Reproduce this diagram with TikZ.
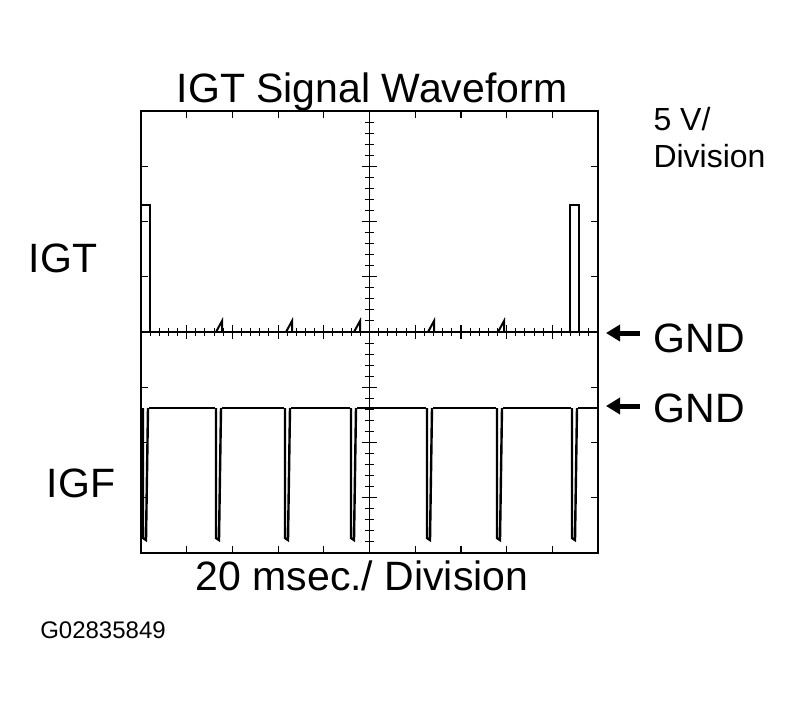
\documentclass[tikz,border=0pt]{standalone}
\usepackage{fontspec}
\setmainfont{Liberation Sans}
\usetikzlibrary{arrows.meta}

\begin{document}
\begin{tikzpicture}[x=1pt,y=-1pt]
    \tikzstyle{trace} = [draw, line width=2.6pt]
    \tikzstyle{lbl} = [font=\fontsize{41}{46}\selectfont]
    \useasboundingbox (0,0) rectangle (804,710);

    % Screen frame
    \draw[line width=1.8pt] (141,111) rectangle (598,553);
    % Ticks on the frame
    \foreach \i in {1,...,9} {
        \draw[line width=1.2pt] ({141+45.7*\i},111) -- ++(0,7);
        \draw[line width=1.2pt] ({141+45.7*\i},553) -- ++(0,-7);
    }
    \foreach \j in {1,...,7} {
        \draw[line width=1.2pt] (141,{111+55.25*\j}) -- ++(7,0);
        \draw[line width=1.2pt] (598,{111+55.25*\j}) -- ++(-7,0);
    }
    % Centre axes
    \draw[line width=1.2pt] (369.5,111) -- (369.5,553);
    \draw[line width=1.2pt] (141,332) -- (598,332);
    \foreach \k in {1,...,49} \draw[line width=1pt] ({141+9.14*\k},328) -- ++(0,8);
    \foreach \k in {1,...,39} \draw[line width=1pt] (365,{111+11.05*\k}) -- ++(9,0);
    \foreach \i in {1,...,9} \draw[line width=1.2pt] ({141+45.7*\i},325) -- ++(0,14);
    \foreach \j in {1,...,7} \draw[line width=1.2pt] (362,{111+55.25*\j}) -- ++(15,0);

    % IGT trace
    \draw[trace] (142,205) -- (150,205) -- (150,332) -- (598,332);
    \draw[trace] (570,332) -- (570,205) -- (579,205) -- (579,332);
    \foreach \x in {216,286,354,428,498} \draw[line width=2pt] (\x,332) -- (\x+6,321) -- (\x+6,332);

    % IGF trace
    \draw[trace] (141,408) -- (598,408);
    \foreach \x in {143,216,285,351,427,497,572}
        \fill[white] (\x-1,410) rectangle (\x+6,406);
    \foreach \x in {143,216,285,351,427,497,572}
        \draw[line width=2.4pt] (\x,408) -- (\x,538) -- (\x+3,540) -- (\x+5,408);

    % Texts
    \node[lbl] (title) at (372,92) {IGT Signal Waveform};
    \node[font=\fontsize{32}{37}\selectfont, align=left, anchor=north west] (vdiv) at (650,104) {5 V/\\Division};
    \node[lbl] (igt) at (63,258) {IGT};
    \node[lbl] (igf) at (81,483) {IGF};
    \node[lbl] (tdiv) at (362,576) {20 msec./ Division};
    \node[font=\fontsize{24}{28}\selectfont] (code) at (103,630) {G02835849};
    \node[lbl, anchor=west] (gnd1) at (650,338) {GND};
    \node[lbl, anchor=west] (gnd2) at (650,408) {GND};
    \draw[-{Triangle[length=14pt,width=16pt]}, line width=5pt] (gnd1.west) ++(-10,-5) -- ++(-34,0);
    \draw[-{Triangle[length=14pt,width=16pt]}, line width=5pt] (gnd2.west) ++(-10,-2) -- ++(-34,0);
\end{tikzpicture}
\end{document}
